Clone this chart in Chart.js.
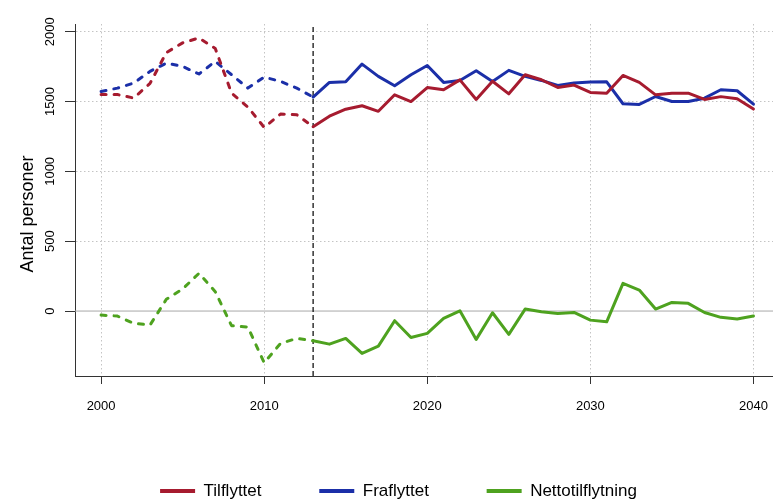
<!DOCTYPE html>
<html>
<head>
<meta charset="utf-8">
<script src="https://cdn.jsdelivr.net/npm/chart.js@4/dist/chart.umd.min.js"></script>
<style>
html,body{margin:0;padding:0;overflow:hidden;background:#fff;width:773px;height:501px}
canvas{display:block}
</style>
</head>
<body>
<canvas id="c" width="797" height="501"></canvas>
<script>
const years = [2000,2001,2002,2003,2004,2005,2006,2007,2008,2009,2010,2011,2012,2013,2014,2015,2016,2017,2018,2019,2020,2021,2022,2023,2024,2025,2026,2027,2028,2029,2030,2031,2032,2033,2034,2035,2036,2037,2038,2039,2040];
const tilflyttet = [1550,1550,1525,1630,1850,1920,1955,1880,1560,1460,1315,1410,1405,1320,1395,1445,1470,1430,1548,1500,1600,1584,1655,1515,1645,1555,1692,1656,1601,1618,1565,1560,1687,1637,1548,1560,1560,1515,1535,1520,1446];
const fraflyttet = [1572,1596,1632,1716,1775,1751,1697,1787,1692,1596,1675,1644,1596,1532,1637,1641,1768,1680,1613,1692,1758,1637,1651,1720,1644,1723,1680,1651,1615,1632,1639,1641,1484,1479,1536,1500,1500,1524,1584,1577,1481];
const netto = [-29,-36,-88,-100,84,158,270,139,-105,-115,-370,-232,-196,-213,-237,-196,-303,-251,-69,-189,-160,-53,2,-203,-12,-167,14,-5,-17,-10,-65,-77,198,150,14,62,55,-10,-45,-57,-36];
const seriesNames = ['Tilflyttet','Fraflyttet','Nettotilflytning'];
const xTicks = [2000,2010,2020,2030,2040];
const yTicks = [0,500,1000,1500,2000];
const projectionStart = 2013;
const yTitle = 'Antal personer';

const xMin = 1998.4, xMax = 2042.67, yMin = -465, yMax = 2055;
const FONT = '"Liberation Sans", Arial, sans-serif';
const COLORS = ['#A61B2F','#1B2FA8','#4EA21F'];
const histDash = [5,8];

function toPts(arr){ return years.map((yr,i)=>({x:yr,y:arr[i]})); }
function mk(label, arr, color){
  return {
    label, data: toPts(arr), borderColor: color, backgroundColor: color,
    borderWidth: 3, pointRadius: 0, tension: 0, borderCapStyle: 'round', borderJoinStyle: 'round',
    segment: { borderDash: c => c.p1.parsed.x <= projectionStart ? histDash : undefined },
    order: 1
  };
}

const yTitlePlugin = {
  id: 'yTitle',
  afterDraw(chart){
    const c = chart.ctx, a = chart.chartArea;
    c.save();
    c.translate(28.5, (a.top + a.bottom)/2 + 14);
    c.rotate(-Math.PI/2);
    c.font = '18px ' + FONT;
    c.fillStyle = '#000';
    c.textAlign = 'center';
    c.textBaseline = 'middle';
    c.fillText(yTitle, 0, 0);
    c.restore();
  }
};

new Chart(document.getElementById('c'), {
  type: 'line',
  data: {
    datasets: [
      mk(seriesNames[0], tilflyttet, COLORS[0]),
      mk(seriesNames[1], fraflyttet, COLORS[1]),
      mk(seriesNames[2], netto, COLORS[2]),
      { label: 'nul', data: [{x:xMin,y:0},{x:xMax,y:0}], borderColor: '#a8a8a8', borderWidth: 1, pointRadius: 0, order: 10 },
      { label: 'prognose', data: [{x:projectionStart,y:yMin},{x:projectionStart,y:yMax}], borderColor: '#000', borderWidth: 1.2, borderDash: [5,3], pointRadius: 0, order: 9 }
    ]
  },
  options: {
    responsive: false,
    animation: false,
    layout: { padding: { top: 24, left: 0, right: 0, bottom: -8.5 } },
    scales: {
      x: {
        type: 'linear', min: xMin, max: xMax,
        afterBuildTicks: s => { s.ticks = xTicks.map(v => ({value: v})); },
        afterFit: s => { s.height = 48.75; },
        grid: { color: '#c4c4c4', lineWidth: 1, tickLength: 8, tickColor: '#333', tickWidth: 1 },
        border: { display: true, color: '#333', width: 1, dash: [1.5, 2.5] },
        ticks: { font: { family: FONT, size: 13 }, color: '#000', padding: 15, maxRotation: 0, callback: v => String(v) }
      },
      y: {
        type: 'linear', min: yMin, max: yMax,
        afterBuildTicks: s => { s.ticks = yTicks.map(v => ({value: v})); },
        afterFit: s => { s.width = 75; },
        grid: { color: c => (c.tick && c.tick.value === 0) ? 'rgba(0,0,0,0)' : '#c4c4c4', lineWidth: 1, tickLength: 10, tickColor: '#333', tickWidth: 1 },
        border: { display: true, color: '#333', width: 1, dash: [1.5, 2.5] },
        ticks: { font: { family: FONT, size: 13 }, color: '#000', padding: 0.5, minRotation: 90, maxRotation: 90, crossAlign: 'center', callback: v => String(v) }
      }
    },
    plugins: {
      tooltip: { enabled: false },
      legend: {
        position: 'bottom', align: 'center',
        labels: {
          boxWidth: 35, boxHeight: 4, padding: 57.75, color: '#000',
          font: { family: FONT, size: 17 },
          generateLabels: chart => Chart.defaults.plugins.legend.labels.generateLabels(chart).map(l => Object.assign(l, {lineWidth: 0})),
          filter: item => item.datasetIndex < 3
        }
      }
    }
  },
  plugins: [yTitlePlugin]
});
</script>
</body>
</html>
